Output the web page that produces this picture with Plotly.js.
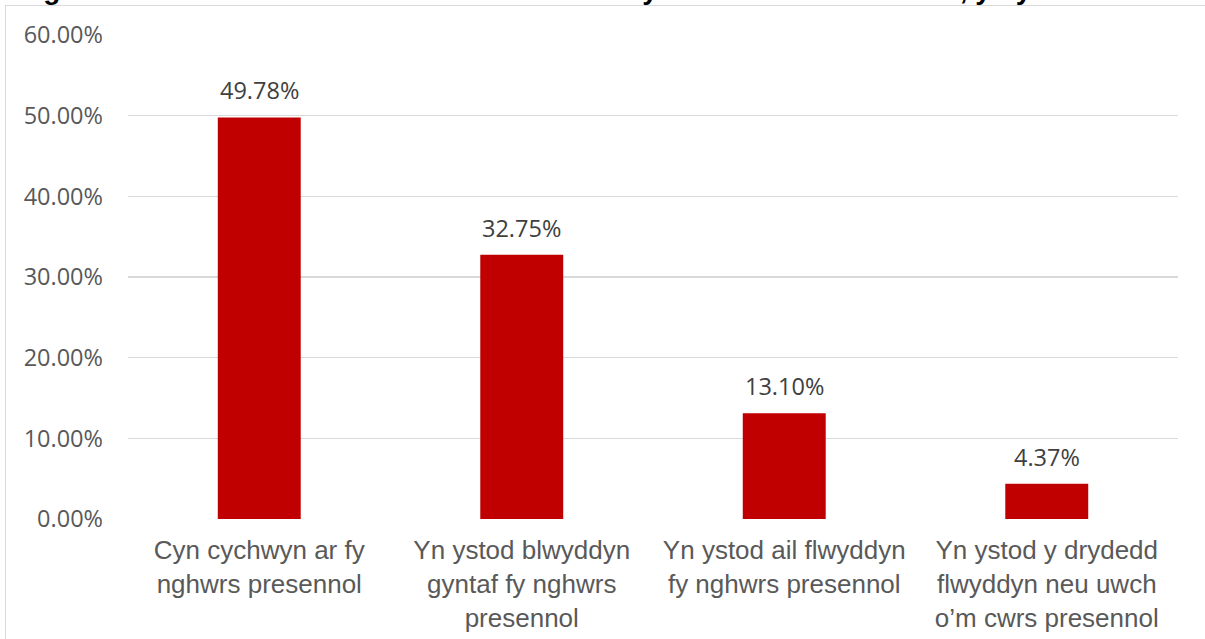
<!DOCTYPE html>
<html>
<head>
<meta charset="utf-8">
<script src="https://cdn.plot.ly/plotly-3.0.1.min.js"></script>
<style>
  html, body { margin: 0; padding: 0; background: #fff; }
  #wrap { position: relative; width: 1205px; height: 639px; overflow: hidden; }
  #chart { width: 1205px; height: 639px; }
  #frame { position: absolute; left: 5px; top: 5px; width: 1300px; height: 700px;
           border-left: 1.5px solid #d9d9d9; border-top: 1.5px solid #d9d9d9; pointer-events: none; }
</style>
</head>
<body>
<div id="wrap">
  <div id="chart"></div>
  <div id="frame"></div>
</div>
<script>
const categories = [
  "Cyn cychwyn ar fy<br>nghwrs presennol",
  "Yn ystod blwyddyn<br>gyntaf fy nghwrs<br>presennol",
  "Yn ystod ail flwyddyn<br>fy nghwrs presennol",
  "Yn ystod y drydedd<br>flwyddyn neu uwch<br>o’m cwrs presennol"
];
const values = [0.4978, 0.3275, 0.1310, 0.0437];
const valueLabels = ["49.78%", "32.75%", "13.10%", "4.37%"];
const titleText = "Ffigur 6: Canran a ddewisodd astudio’r cwrs ar y cam hwn o’r amserlen, yn y cwrs";

const trace = {
  type: "bar",
  x: categories,
  y: values,
  marker: { color: "#C00000" },
  hoverinfo: "skip"
};

const annotations = categories.map((c, i) => ({
  x: c, y: values[i], xref: "x", yref: "y",
  text: valueLabels[i], showarrow: false,
  yanchor: "bottom", yshift: 9,
  font: { family: "Open Sans, Noto Sans, sans-serif", size: 23.5, color: "#404040" }
}));

annotations.push({
  text: "<b>" + titleText + "</b>",
  xref: "paper", yref: "paper", x: 0, y: 1,
  xanchor: "left", yanchor: "bottom",
  xshift: -121, yshift: 28,
  showarrow: false,
  font: { family: "Liberation Sans, Arial, sans-serif", size: 28, color: "#000000" }
});

const layout = {
  width: 1205, height: 639,
  margin: { l: 128, r: 27, t: 35, b: 120 },
  paper_bgcolor: "#ffffff", plot_bgcolor: "#ffffff",
  bargap: 0.684,
  showlegend: false,
  xaxis: {
    type: "category",
    showgrid: false, zeroline: false, showline: false,
    ticks: "", ticklabelstandoff: 13,
    tickfont: { family: "Liberation Sans, Arial, sans-serif", size: 26, color: "#595959" }
  },
  yaxis: {
    range: [0, 0.6], dtick: 0.1, tick0: 0,
    tickformat: ".2%",
    showgrid: true, gridcolor: "#d9d9d9", gridwidth: 1.3,
    zeroline: false, showline: false, ticks: "",
    ticklabelstandoff: 24,
    tickfont: { family: "Open Sans, Noto Sans, sans-serif", size: 23.5, color: "#595959" }
  },
  annotations: annotations
};

Plotly.newPlot("chart", [trace], layout, { displayModeBar: false, staticPlot: true });
</script>
</body>
</html>
